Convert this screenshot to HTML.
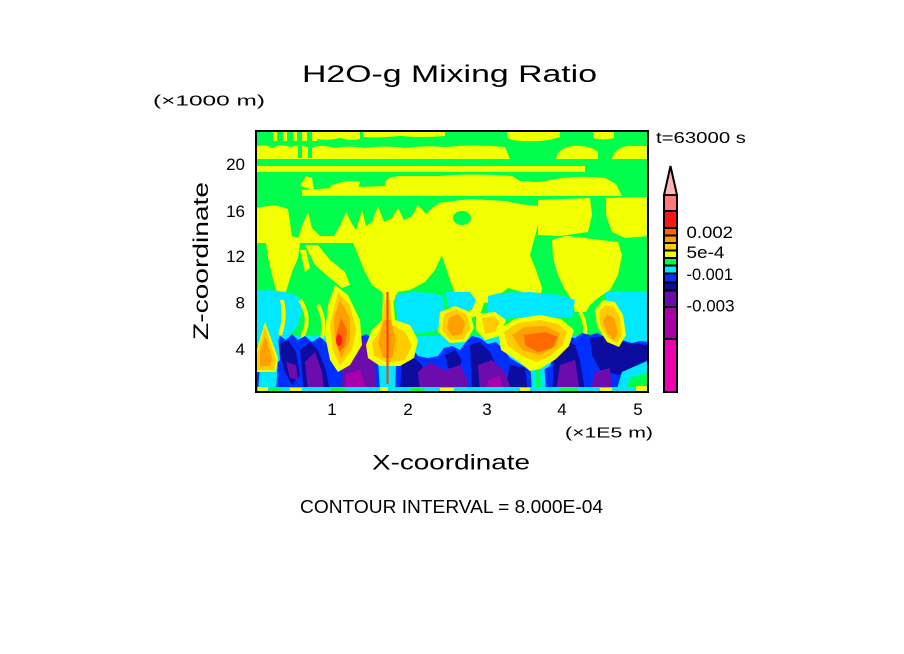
<!DOCTYPE html>
<html>
<head>
<meta charset="utf-8">
<style>
html,body{margin:0;padding:0;background:#fff;}
svg{display:block;}
text{font-family:"Liberation Sans",sans-serif;fill:#000;}
</style>
</head>
<body>
<svg width="904" height="654" viewBox="0 0 904 654" xmlns="http://www.w3.org/2000/svg">
<defs>
<clipPath id="pc"><rect x="256" y="131" width="392" height="261"/></clipPath>
</defs>
<rect width="904" height="654" fill="#fff"/>

<g clip-path="url(#pc)">
<rect x="255" y="130" width="394" height="263" fill="#00ff4d"/>

<g fill="#f2ff00">
<rect x="273" y="131" width="4" height="10"/>
<rect x="283" y="131" width="4" height="10"/>
<rect x="293" y="131" width="4" height="10"/>
<rect x="302" y="131" width="5" height="10"/>
<rect x="312" y="131" width="5" height="10"/>
<path d="M317,131 H360 V139 Q350,141 340,138 Q328,141 317,139 Z"/>
<path d="M363,131 H445 V136 Q420,138 400,136 Q380,138 363,137 Z"/>
<path d="M507,131 H560 V137 Q545,142 530,141 Q512,142 507,137 Z"/>
<path d="M593,131 H614 V138 Q604,141 593,138 Z"/>
<path d="M255,159 V147 Q264,143 272,148 Q281,143 290,147 Q300,144 310,148 Q322,144 335,148 Q350,145 365,148 Q385,145 405,148 Q425,145 445,147 Q475,144 505,147 L510,159 Z"/>
<path d="M556,159 Q558,148 572,146 Q590,145 598,152 L598,159 Z"/>
<path d="M612,159 Q614,148 628,146 L649,146 V159 Z"/>
<rect x="255" y="166" width="330" height="6"/>
<path d="M385,186 Q383,177 400,176 L440,176 Q470,173 512,176 L520,181 Q540,182 556,179 Q580,175 605,178 L616,184 L622,196 L302,196 L302,190 Q340,187 385,186 Z"/>
<path d="M300,186 L306,176 L312,178 L314,190 Z"/>
<path d="M330,186 Q345,179 360,182 L358,188 L332,189 Z"/>
</g>
<g fill="#00ff4d">
<rect x="298" y="146" width="4" height="12"/>
<rect x="308" y="146" width="4" height="12"/>
<ellipse cx="536" cy="178" rx="14" ry="4"/>
</g>

<g fill="#f2ff00">
<path d="M255,208 L275,205 L288,209 L292,236 L298,238 L302,226 L308,212 L312,228 L320,236 L334,236 L340,226 L346,212 L352,224 L356,230 L362,210 L366,226 L372,222 L378,206 L384,222 L392,218 L398,208 L404,220 L412,216 L418,205 L426,214 L432,208 L440,203 L442,243 L255,243 Z"/>
<path d="M438,203 L470,199 L505,201 L520,204 L538,206 L538,225 L534,240 L530,255 L536,270 L542,288 L540,300 L528,302 L522,292 L508,288 L498,296 L490,303 L478,302 L470,296 L462,300 L455,293 L450,280 L445,265 L440,250 Z"/>
<path d="M538,200 L590,198 L592,215 L588,232 L560,236 L538,235 Z"/>
<path d="M606,198 L649,197 L649,236 L625,238 L612,232 L606,215 Z"/>
<path d="M352,240 L442,240 L442,255 L435,270 L425,282 L410,290 L398,292 L392,305 L386,305 L382,292 L372,285 L364,270 L358,255 Z"/>
<path d="M266,243 L300,243 L298,258 L292,272 L288,285 L284,298 L280,300 L276,290 L272,275 L268,258 Z"/>
<path d="M552,240 L565,236 L585,238 L600,240 L618,242 L622,255 L618,275 L610,290 L598,298 L590,305 L586,312 L575,312 L572,300 L565,290 L558,275 L553,258 Z"/>
<path d="M305,245 L318,245 L330,260 L345,272 L350,285 L342,288 L330,278 L315,265 Z"/>
<path d="M300,250 L306,250 L310,268 L305,272 Z"/>
<path d="M470,295 L485,300 L480,315 L470,318 Z"/>
</g>
<ellipse cx="462" cy="218" rx="9" ry="7" fill="#00ff4d"/>

<g fill="#00e8ff">
<path d="M255,291 L270,290 L285,292 L298,296 L302,310 L298,325 L290,335 L270,338 L255,340 Z"/>
<path d="M395,295 L412,292 L430,293 L443,296 L445,315 L440,330 L420,333 L398,330 Z"/>
<path d="M445,292 L470,292 L476,300 L472,310 L450,312 Z"/>
<path d="M488,296 L500,293 L530,292 L560,295 L575,300 L572,318 L540,316 L510,318 L488,322 Z"/>
<path d="M606,292 L649,292 L649,358 L630,356 L615,348 L606,330 Z"/>
<rect x="255" y="336" width="394" height="57"/>
</g>

<g fill="none" stroke="#f2ff00" stroke-width="4">
<path d="M300,300 Q310,315 305,330 Q300,340 308,350"/>
<path d="M318,305 Q326,320 322,338"/>
<path d="M282,300 Q286,318 280,335"/>
<path d="M580,312 Q588,325 584,345"/>
</g>

<path fill="#0030ff" d="M255,392 L255,350 L258,345 L262,350 L270,372 L276,345 L280,336 L286,340 L292,334 L298,340 L305,336 L312,342 L320,337 L328,344 L333,352 L338,365 L344,340 L350,336 L358,338 L366,334 L372,338 L376,350 L380,365 L384,375 L394,372 L400,356 L405,350 L412,348 L418,356 L428,358 L438,356 L444,348 L452,346 L460,350 L466,342 L472,336 L480,338 L488,344 L496,342 L504,350 L510,358 L520,364 L530,370 L540,372 L550,366 L556,350 L560,340 L566,336 L575,338 L582,333 L590,335 L598,333 L606,338 L614,342 L622,340 L632,343 L640,341 L649,342 L649,360 L638,368 L628,376 L620,385 L612,392 Z"/>

<g fill="#0c0c9e">
<path d="M278,345 L288,340 L296,352 L300,375 L292,385 L284,370 Z"/>
<path d="M300,350 L310,342 L318,350 L326,370 L330,392 L304,392 Z"/>
<path d="M402,362 L412,356 L422,365 L428,392 L400,392 Z"/>
<path d="M445,355 L455,350 L462,360 L458,372 L448,368 Z"/>
<path d="M470,345 L480,342 L490,352 L498,370 L500,392 L472,392 Z"/>
<path d="M510,365 L525,368 L528,392 L505,392 Z"/>
<path d="M555,345 L565,340 L575,345 L580,360 L585,392 L552,392 Z"/>
<path d="M590,338 L605,336 L620,342 L640,344 L649,346 L649,360 L632,368 L618,375 L600,370 L592,355 Z"/>
</g>
<g fill="#6c0cac">
<path d="M286,362 L296,365 L298,380 L290,378 Z"/>
<path d="M305,362 L315,352 L322,372 L324,392 L308,392 Z"/>
<path d="M343,352 L355,342 L368,340 L374,355 L376,392 L342,392 Z"/>
<path d="M418,372 L430,362 L445,370 L460,365 L468,380 L466,392 L420,392 Z"/>
<path d="M478,365 L492,360 L505,372 L512,392 L480,392 Z"/>
<path d="M560,365 L575,360 L580,392 L556,392 Z"/>
<path d="M595,372 L610,368 L612,392 L590,392 Z"/>
</g>
<path fill="#aa00aa" d="M346,374 L360,370 L368,392 L344,392 Z"/>
<path fill="#aa00aa" d="M488,380 L500,376 L504,392 L486,392 Z"/>

<g fill="#00e8ff">
<path d="M530,362 L544,362 L546,392 L532,392 Z"/>
<path d="M378,360 L396,360 L395,392 L380,392 Z"/>
<path d="M260,365 L278,360 L276,392 L258,392 Z"/>
<path d="M268,338 L278,336 L280,360 L270,372 Z"/>
<path d="M622,372 L649,360 L649,392 L616,392 Z"/>
</g>
<path fill="#00ff4d" d="M535,365 L540,365 L541,392 L536,392 Z"/>
<path fill="#00ff4d" d="M630,378 L649,372 L649,392 L626,392 Z"/>

<path fill="#f2ff00" d="M265,322 L278,358 L276,372 L256,372 L256,352 Z"/>
<path fill="#ffcc00" d="M265,326 L276,360 L274,370 L257,370 L257,355 Z"/>
<path fill="#ff9f00" d="M265,336 L272,358 L270,366 L260,366 L260,352 Z"/>
<path fill="#f2ff00" d="M335,285 L348,295 L360,320 L362,345 L350,365 L338,372 L330,360 L325,335 L328,305 Z"/>
<path fill="#ffcc00" d="M338,292 L350,305 L356,330 L352,350 L340,366 L333,350 L330,325 Z"/>
<path fill="#ff9f00" d="M340,300 L350,318 L350,340 L341,358 L335,340 L334,318 Z"/>
<path fill="#ff6a00" d="M341,318 L347,330 L345,346 L339,352 L336,336 Z"/>
<ellipse fill="#ff1a1a" cx="339" cy="340" rx="3" ry="6"/>
<path fill="#f2ff00" d="M383,285 L392,285 L395,320 L410,325 L418,340 L414,358 L400,366 L380,366 L368,358 L366,345 L372,330 L382,320 Z"/>
<path fill="#ffcc00" d="M385,300 L390,300 L392,325 L405,332 L412,345 L405,360 L388,363 L374,356 L372,343 L380,330 Z"/>
<path fill="#ff9f00" d="M384,320 L391,320 L396,340 L392,358 L383,358 L378,342 Z"/>
<rect fill="#ff3a00" x="386.5" y="292" width="2" height="92"/>
<path fill="#f2ff00" d="M440,312 L455,306 L470,312 L474,328 L466,342 L450,343 L438,332 Z"/>
<path fill="#ffcc00" d="M444,314 L456,309 L467,315 L470,328 L463,339 L450,340 L442,330 Z"/>
<path fill="#ff9f00" d="M449,318 L458,314 L465,322 L462,334 L452,336 L447,328 Z"/>
<path fill="#f2ff00" d="M476,314 L495,312 L506,320 L500,336 L485,340 L476,330 Z"/>
<path fill="#ffcc00" d="M482,318 L494,316 L500,322 L495,332 L485,334 Z"/>
<path fill="#f2ff00" d="M498,330 L514,319 L540,315 L561,319 L574,330 L569,346 L556,359 L540,369 L530,371 L518,361 L501,350 Z"/>
<path fill="#ffcc00" d="M504,332 L518,323 L540,320 L558,324 L567,332 L563,345 L550,356 L537,362 L522,356 L508,346 Z"/>
<path fill="#ff9f00" d="M512,335 L525,327 L545,326 L560,333 L556,346 L540,355 L522,350 Z"/>
<path fill="#ff6a00" d="M524,335 L545,332 L558,337 L552,348 L538,352 L525,345 Z"/>
<path fill="#f2ff00" d="M603,300 L615,302 L623,315 L626,335 L619,347 L607,342 L597,326 L595,310 Z"/>
<path fill="#ffcc00" d="M605,305 L614,307 L620,318 L622,335 L617,343 L608,338 L600,325 L599,312 Z"/>
<path fill="#ff9f00" d="M607,314 L614,318 L618,332 L614,340 L607,333 L603,322 Z"/>

<rect x="255" y="387" width="394" height="5" fill="#00e8ff"/>
<g fill="#f2ff00">
<rect x="258" y="387" width="10" height="5"/>
<rect x="290" y="388" width="12" height="4"/>
<rect x="380" y="387" width="8" height="5"/>
<rect x="440" y="388" width="14" height="4"/>
<rect x="520" y="388" width="10" height="4"/>
<rect x="600" y="388" width="12" height="4"/>
<rect x="636" y="386" width="12" height="6"/>
</g>
<g fill="#00ff4d">
<rect x="270" y="387" width="12" height="5"/>
<rect x="330" y="388" width="16" height="4"/>
<rect x="410" y="388" width="14" height="4"/>
<rect x="560" y="388" width="18" height="4"/>
</g>
</g>
<rect x="256" y="131" width="392" height="261" fill="none" stroke="#000" stroke-width="2"/>

<rect x="663" y="194" width="15" height="199" fill="#000"/>
<rect x="665" y="196" width="11" height="14" fill="#ff7878"/>
<rect x="665" y="212" width="11" height="15" fill="#ff1414"/>
<rect x="665" y="229" width="11" height="5.5" fill="#ff6400"/>
<rect x="665" y="236.5" width="11" height="5.5" fill="#ff9b00"/>
<rect x="665" y="244" width="11" height="5.5" fill="#ffcc00"/>
<rect x="665" y="251.5" width="11" height="5.5" fill="#f2ff00"/>
<rect x="665" y="259" width="11" height="5.5" fill="#00ff4d"/>
<rect x="665" y="266.5" width="11" height="6" fill="#00e8ff"/>
<rect x="665" y="274.5" width="11" height="7" fill="#0030ff"/>
<rect x="665" y="283.5" width="11" height="6" fill="#0c0c9e"/>
<rect x="665" y="291.5" width="11" height="14.5" fill="#6c0cac"/>
<rect x="665" y="308" width="11" height="30" fill="#aa00aa"/>
<rect x="665" y="340" width="11" height="51" fill="#ec00b0"/>
<polygon points="670.5,166 664,195 677,195" fill="#ffb4b4" stroke="#000" stroke-width="2" stroke-linejoin="miter"/>

<text x="302" y="82" font-size="24" textLength="295" lengthAdjust="spacingAndGlyphs">H2O-g Mixing Ratio</text>
<text x="153" y="105.5" font-size="15" textLength="112" lengthAdjust="spacingAndGlyphs">(×1000 m)</text>
<text x="656" y="143" font-size="15.5" textLength="90" lengthAdjust="spacingAndGlyphs">t=63000 s</text>

<g font-size="17" text-anchor="end">
<text x="245" y="170">20</text>
<text x="245" y="217">16</text>
<text x="245" y="262">12</text>
<text x="245" y="308.5">8</text>
<text x="245" y="355">4</text>
</g>
<g font-size="17" text-anchor="middle">
<text x="332" y="415">1</text>
<text x="408" y="415">2</text>
<text x="487" y="415">3</text>
<text x="562" y="415">4</text>
<text x="638" y="415">5</text>
</g>
<text x="565" y="437.5" font-size="15" textLength="88" lengthAdjust="spacingAndGlyphs">(×1E5 m)</text>
<text x="372" y="469.5" font-size="21" textLength="158" lengthAdjust="spacingAndGlyphs">X-coordinate</text>
<text transform="translate(208,340) rotate(-90)" x="0" y="0" font-size="21" textLength="158" lengthAdjust="spacingAndGlyphs">Z-coordinate</text>
<text x="300" y="513" font-size="18" textLength="303" lengthAdjust="spacingAndGlyphs">CONTOUR INTERVAL = 8.000E-04</text>

<g font-size="17">
<text x="686.5" y="238" textLength="46.5" lengthAdjust="spacingAndGlyphs">0.002</text>
<text x="686.5" y="258" textLength="38" lengthAdjust="spacingAndGlyphs">5e-4</text>
<text x="686.5" y="280" textLength="46.5" lengthAdjust="spacingAndGlyphs">-0.001</text>
<text x="686.5" y="311.5" textLength="48" lengthAdjust="spacingAndGlyphs">-0.003</text>
</g>
</svg>
</body>
</html>
